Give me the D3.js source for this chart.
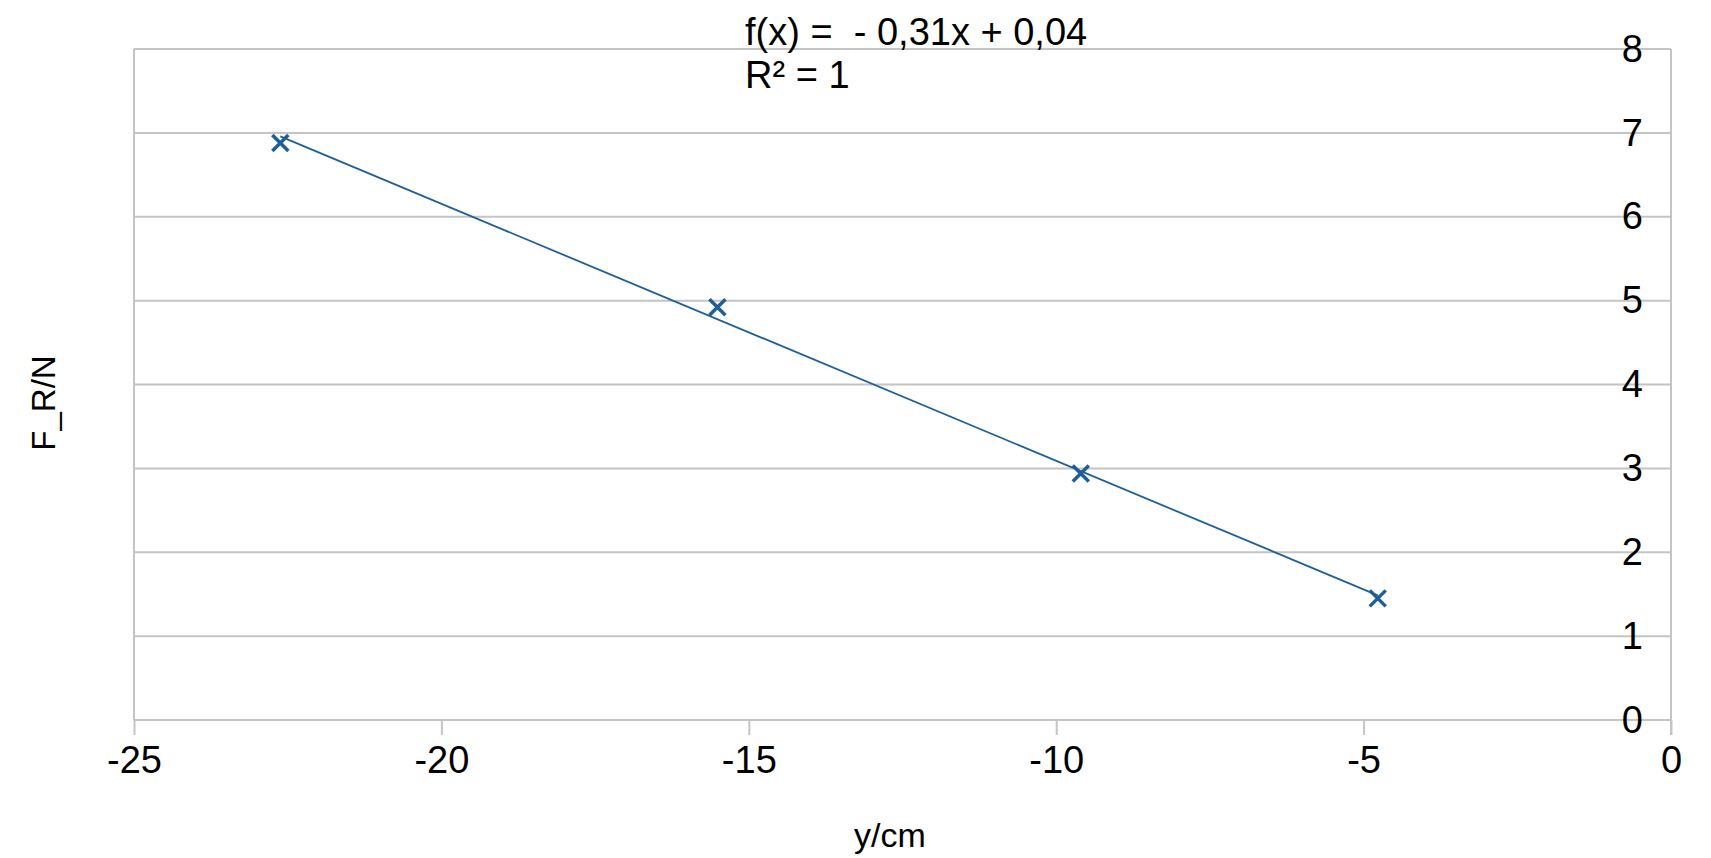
<!DOCTYPE html>
<html>
<head>
<meta charset="utf-8">
<script src="https://cdn.jsdelivr.net/npm/d3@7"></script>
<style>
  body { margin: 0; background: #fff; }
  text { font-family: "Liberation Sans", Arial, sans-serif; fill: #000; }
</style>
</head>
<body>
<div id="chart"></div>
<script>
// data
var yPos  = [-22.62, -15.51, -9.60, -4.77];   // y/cm
var force = [6.88, 4.92, 2.94, 1.45];         // F_R/N
var xTicks = [-25, -20, -15, -10, -5, 0];
var yTicks = [0, 1, 2, 3, 4, 5, 6, 7, 8];
var eqLines = ["f(x) =  - 0,31x + 0,04", "R\u00b2 = 1"];

var W = 1711, H = 858;
var pLeft = 134, pRight = 1671, pTop = 49, pBottom = 720;
var grid = "#c4c4c4", blue = "#1f5f99";

var svg = d3.select("#chart").append("svg")
  .attr("width", W).attr("height", H);

var x = d3.scaleLinear().domain([-25, 0]).range([pLeft, pRight]);
var y = d3.scaleLinear().domain([0, 8]).range([pBottom, pTop]);

// horizontal grid
svg.append("g").selectAll("line")
  .data(yTicks).enter().append("line")
  .attr("x1", pLeft).attr("x2", pRight)
  .attr("y1", function(d) { return y(d); })
  .attr("y2", function(d) { return y(d); })
  .attr("stroke", grid).attr("stroke-width", 2);

// plot frame (left + right side)
svg.append("line").attr("x1", pLeft).attr("x2", pLeft)
  .attr("y1", pTop).attr("y2", pBottom)
  .attr("stroke", grid).attr("stroke-width", 2);
svg.append("line").attr("x1", pRight).attr("x2", pRight)
  .attr("y1", pTop).attr("y2", pBottom + 15)
  .attr("stroke", grid).attr("stroke-width", 2);

// x axis ticks + labels
var xa = svg.append("g").attr("transform", "translate(0," + pBottom + ")")
  .call(d3.axisBottom(x).tickValues(xTicks).tickSize(15).tickPadding(11)
    .tickFormat(d3.format("d")));
xa.select(".domain").remove();
xa.selectAll("line").attr("stroke", grid).attr("stroke-width", 2);
xa.selectAll("text").style("font-size", "38px").attr("fill", "#000")
  .text(function(d) { return String(d); });

// y labels sit inside, left of the right axis
var ya = svg.append("g").attr("transform", "translate(" + pRight + ",0)")
  .call(d3.axisLeft(y).tickValues(yTicks).tickSize(0).tickPadding(28));
ya.select(".domain").remove();
ya.selectAll("text").style("font-size", "38px").attr("fill", "#000");

// trend line from linear regression
var mx = d3.mean(yPos), my = d3.mean(force);
var sxy = d3.sum(yPos, function(v, i) { return (v - mx) * (force[i] - my); });
var sxx = d3.sum(yPos, function(v) { return (v - mx) * (v - mx); });
var slope = sxy / sxx, icpt = my - slope * mx;
var x0 = d3.min(yPos), x1 = d3.max(yPos);
svg.append("line")
  .attr("x1", x(x0)).attr("y1", y(slope * x0 + icpt))
  .attr("x2", x(x1)).attr("y2", y(slope * x1 + icpt))
  .attr("stroke", blue).attr("stroke-width", 1.8);

// x markers
var s = 8;
var pts = svg.append("g").selectAll("g")
  .data(yPos).enter().append("g")
  .attr("transform", function(d, i) { return "translate(" + x(d) + "," + y(force[i]) + ")"; });
pts.append("path")
  .attr("d", "M" + (-s) + "," + (-s) + "L" + s + "," + s + "M" + (-s) + "," + s + "L" + s + "," + (-s))
  .attr("stroke", blue).attr("stroke-width", 3.5).attr("fill", "none");

// equation
svg.append("g").selectAll("text")
  .data(eqLines).enter().append("text")
  .attr("x", 745).attr("y", function(d, i) { return 45 + i * 43; })
  .style("font-size", "38px").style("white-space", "pre")
  .text(function(d) { return d; });

// axis titles
svg.append("text").attr("x", 890).attr("y", 847)
  .attr("text-anchor", "middle").style("font-size", "34px").text("y/cm");
svg.append("text")
  .attr("transform", "translate(55,403) rotate(-90)")
  .attr("text-anchor", "middle").style("font-size", "33px").text("F_R/N");
</script>
</body>
</html>
